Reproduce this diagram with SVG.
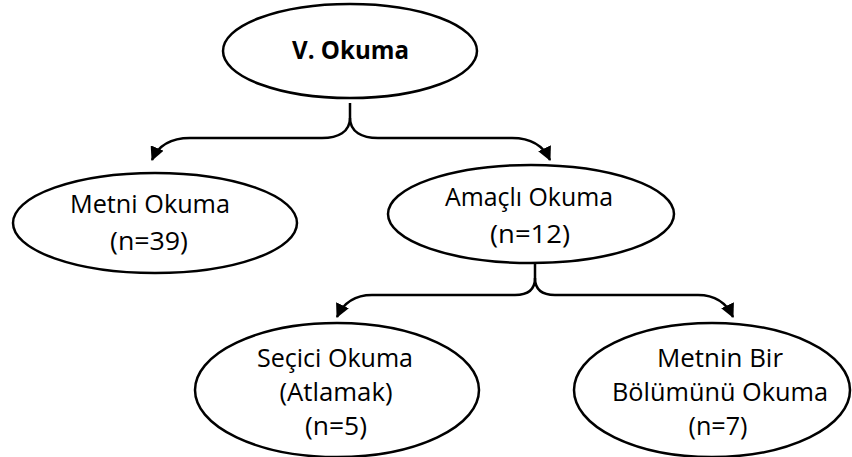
<svg xmlns="http://www.w3.org/2000/svg" width="852" height="457" viewBox="0 0 852 457">
<style>
.node{fill:#fff;stroke:#000;stroke-width:2.5}
.t{font-family:"Open Sans","Liberation Sans",sans-serif;font-size:25px;fill:#000;text-anchor:middle}
.b{font-weight:bold}
.c{fill:none;stroke:#000;stroke-width:2.5}
</style>
<defs>
<marker id="ah" markerUnits="userSpaceOnUse" markerWidth="14" markerHeight="14" refX="13" refY="7" orient="auto">
<path d="M0,0 L14,7 L0,14 z" fill="#000"/>
</marker>
</defs>
<rect width="852" height="457" fill="#fff"/>
<g id="connectors">
<path class="c" d="M350,103 V118 C350,132 338,138 322,138 H190 C170,138 158,146 152,160" marker-end="url(#ah)"/>
<path class="c" d="M350,118 C350,132 362,138 378,138 H512 C532,138 544,147 550,160" marker-end="url(#ah)"/>
<path class="c" d="M535,262 V278 C535,290 527,295 515,295 H372 C354,295 343,304 337,317" marker-end="url(#ah)"/>
<path class="c" d="M535,278 C535,290 543,295 555,295 H698 C716,295 727,304 733,317" marker-end="url(#ah)"/>
</g>
<g id="node-okuma">
<ellipse class="node" cx="350" cy="51" rx="127" ry="47"/>
<text class="t b" x="350.5" y="59" textLength="117" lengthAdjust="spacingAndGlyphs">V. Okuma</text>
</g>
<g id="node-metni">
<ellipse class="node" cx="155" cy="223" rx="142" ry="50"/>
<text class="t" x="150" y="213" textLength="160" lengthAdjust="spacingAndGlyphs">Metni Okuma</text>
<text class="t" x="149" y="250" textLength="78" lengthAdjust="spacingAndGlyphs">(n=39)</text>
</g>
<g id="node-amacli">
<ellipse class="node" cx="531" cy="214" rx="143" ry="49"/>
<text class="t" x="529" y="206" textLength="168" lengthAdjust="spacingAndGlyphs">Amaçlı Okuma</text>
<text class="t" x="530" y="243" textLength="80" lengthAdjust="spacingAndGlyphs">(n=12)</text>
</g>
<g id="node-secici">
<ellipse class="node" cx="337" cy="390" rx="142" ry="67"/>
<text class="t" x="335" y="367" textLength="156" lengthAdjust="spacingAndGlyphs">Seçici Okuma</text>
<text class="t" x="336" y="401" textLength="113" lengthAdjust="spacingAndGlyphs">(Atlamak)</text>
<text class="t" x="336" y="435" textLength="62" lengthAdjust="spacingAndGlyphs">(n=5)</text>
</g>
<g id="node-metnin">
<ellipse class="node" cx="712" cy="390" rx="138" ry="67"/>
<text class="t" x="720" y="367" textLength="126" lengthAdjust="spacingAndGlyphs">Metnin Bir</text>
<text class="t" x="720" y="401" textLength="216" lengthAdjust="spacingAndGlyphs">Bölümünü Okuma</text>
<text class="t" x="718" y="435" textLength="59" lengthAdjust="spacingAndGlyphs">(n=7)</text>
</g>
</svg>
